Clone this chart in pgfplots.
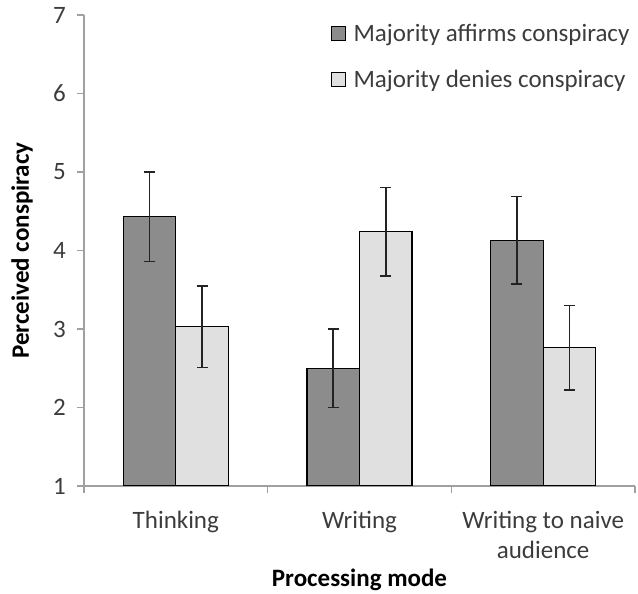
\documentclass[border=0pt]{standalone}
\usepackage{fontspec}
\setmainfont{Carlito}
\usepackage{pgfplots}
\pgfplotsset{compat=1.18}
\usepackage{pgfplotstable}
\definecolor{darkbar}{RGB}{140,140,140}
\definecolor{lightbar}{RGB}{224,224,224}
\definecolor{axisgray}{RGB}{160,160,160}
\definecolor{textgray}{RGB}{60,60,60}
\definecolor{errgray}{RGB}{35,35,35}

\pgfplotstableread{
x y e
0 4.43 0.57
1 2.50 0.50
2 4.13 0.56
}\affirms
\pgfplotstableread{
x y e
0 3.03 0.52
1 4.24 0.565
2 2.76 0.54
}\denies

\begin{document}
\begin{tikzpicture}
\begin{axis}[
  scale only axis, width=551pt, height=471pt,
  xmin=-0.5, xmax=2.5, ymin=1, ymax=7,
  ybar=0pt, bar width=52.5pt,
  axis x line=bottom, axis y line=left,
  axis line style={-, draw=axisgray, line width=1.2pt},
  tick align=outside,
  major tick length=7pt, minor tick length=7pt,
  every tick/.style={axisgray, line width=1.2pt},
  xtick={0,1,2},
  xticklabels={Thinking, Writing, {Writing to naive\\audience}},
  minor xtick={-0.5,0.5,1.5,2.5},
  major x tick style={draw=none},
  ytick={1,2,3,4,5,6,7},
  tick label style={font=\fontsize{25}{30}\selectfont, text=textgray},
  /pgf/number format/assume math mode=true,
  xticklabel style={anchor=north, inner sep=0pt, yshift=-18pt, align=center},
  yticklabel style={anchor=east, inner sep=0pt, xshift=-11pt},
  xlabel={Processing mode},
  ylabel={Perceived conspiracy},
  label style={font=\bfseries\fontsize{25}{30}\selectfont, text=black},
  xlabel style={at={([yshift=-101pt]axis description cs:0.5,0)}, anchor=base},
  ylabel style={at={([xshift=-55pt]axis description cs:0,0.5)}, anchor=base, rotate=0},
  legend style={at={(axis description cs:0.448,0.985)}, anchor=north west,
    draw=none, fill=none, inner sep=0pt, row sep=23pt,
    font=\fontsize{25}{30}\selectfont, text=textgray},
  legend cell align=left,
  legend image code/.code={\draw[#1, line width=1pt] (0pt,-7pt) rectangle (14pt,7pt);
    \path[draw=none, fill=none] (14pt,0pt) -- (20pt,0pt);},
  error bars/y dir=both, error bars/y explicit,
  error bars/error bar style={line width=1.6pt, errgray},
  error bars/error mark options={rotate=90, mark size=5.5pt, line width=1.6pt, errgray},
]
\addplot[fill=darkbar, draw=black, line width=1.3pt] table[x=x, y=y, y error=e]{\affirms};
\addplot[fill=lightbar, draw=black, line width=1.3pt] table[x=x, y=y, y error=e]{\denies};
\legend{Majority affirms conspiracy, Majority denies conspiracy}
\end{axis}
\pgfresetboundingbox
\path (-84pt,-108pt) rectangle (554pt,486pt);
\end{tikzpicture}
\end{document}
